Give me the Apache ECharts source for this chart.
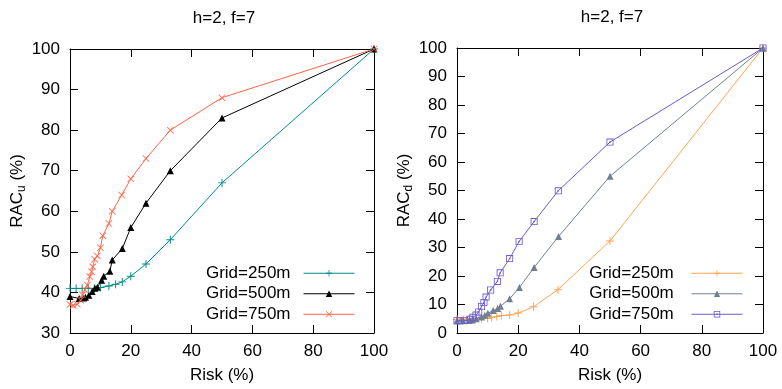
<!DOCTYPE html>
<html><head><meta charset="utf-8">
<script src="https://cdn.jsdelivr.net/npm/echarts@6/dist/echarts.min.js"></script>
<style>html,body{margin:0;padding:0;background:#fff}#c{width:782px;height:389px}</style>
</head><body><div id="c"></div>
<script>
// ---- data ----
const titleText = 'h=2, f=7';
const legendNames = ['Grid=250m', 'Grid=500m', 'Grid=750m'];
const xTicks = [0, 20, 40, 60, 80, 100];

const riskU250 = [0, 2, 4, 6, 8, 10, 12.8, 15, 17.2, 20, 25, 33, 50, 100];
const racU250  = [41, 41, 41, 41, 41, 41.2, 41.6, 42, 42.6, 44, 47, 53, 67, 100];
const riskU500 = [0, 3, 4.5, 5.1, 6.2, 7.3, 8.2, 9, 10.4, 11.1, 13.1, 13.9, 17.2, 20, 25, 33, 50, 100];
const racU500  = [39, 38.5, 38.6, 38.8, 39.3, 40.2, 41, 41.3, 43, 44, 45.2, 48, 50.8, 56, 62, 70, 83, 100];
const riskU750 = [0, 1, 2.4, 3.5, 4.1, 4.9, 5.7, 6.5, 7.1, 7.5, 8.1, 9, 10, 10.8, 12.8, 13.9, 17, 20, 25, 33, 50, 100];
const racU750  = [37, 36.8, 37.1, 38.1, 39.4, 40.6, 41.8, 43.9, 45.1, 46.3, 48.2, 49, 51, 54, 57, 60, 64, 68, 73, 80, 88, 100];

const riskD250 = [0, 2, 4, 6, 8, 10, 11.3, 13, 14.5, 17.2, 20, 25, 33, 50, 100];
const racD250  = [4.8, 4.8, 4.9, 5, 5, 5.1, 5.4, 5.8, 6.1, 6.3, 7, 9.2, 15.2, 32.3, 100];
const riskD500 = [0, 2, 4, 5, 6.3, 8, 9.1, 10.1, 11.8, 13.3, 14.2, 17.2, 20.4, 25.2, 33.2, 50, 100];
const racD500  = [4.3, 4.3, 4.4, 4.6, 5, 5.6, 6.2, 6.9, 7.9, 8.6, 9.4, 12, 16, 23, 33.9, 55, 100];
const riskD750 = [0, 1, 2.5, 4.2, 5.2, 6.2, 7.1, 8, 8.8, 9.5, 11, 13.2, 14.1, 17.2, 20.3, 25.2, 33.1, 50, 100];
const racD750  = [4.3, 4.3, 4.4, 4.8, 5.5, 6.3, 7.4, 9.3, 10.7, 12.6, 15.1, 18.1, 21.1, 26.1, 32.1, 39.1, 49.9, 67, 100];

// ---- style ----
const FONT = 'Liberation Sans';
const FS = 17;
const PLUS = 'path://M0,4.4H10V5.6H0ZM4.4,0H5.6V10H4.4Z';
const CROSS = 'path://M0,0.8L0.8,0L10,9.2L9.2,10ZM9.2,0L10,0.8L0.8,10L0,9.2Z';
const SQDOT = 'path://M0,0H10V10H0ZM1.2,1.2V8.8H8.8V1.2ZM4,4H6V6H4Z';

const zip = (xs, ys) => xs.map((x, i) => [x, ys[i]]);

function mkSeries(name, xs, ys, color, symbol, size, idx) {
  return {
    type: 'line', name, data: zip(xs, ys),
    xAxisIndex: idx, yAxisIndex: idx,
    symbol, symbolSize: size, showAllSymbol: true,
    lineStyle: { color, width: 1 },
    itemStyle: { color },
    emphasis: { disabled: true },
    animation: false
  };
}

const tickStyle = { inside: true, length: 8, lineStyle: { color: '#000', width: 1 } };
const lineStyle = { show: true, onZero: false, lineStyle: { color: '#000', width: 1 } };
const labelStyle = { fontFamily: FONT, fontSize: FS, color: '#000' };

function xAxes(g) {
  return [
    { type: 'value', gridIndex: g, position: 'bottom', min: 0, max: 100, interval: 20,
      axisLine: lineStyle, axisTick: tickStyle, splitLine: { show: false },
      axisLabel: Object.assign({ margin: 10, formatter: v => xTicks.includes(v) ? String(v) : '' }, labelStyle),
      name: 'Risk (%)', nameLocation: 'middle', nameGap: 34,
      nameTextStyle: labelStyle },
    { type: 'value', gridIndex: g, position: 'top', min: 0, max: 100, interval: 20,
      axisLine: lineStyle, axisTick: tickStyle, splitLine: { show: false },
      axisLabel: { show: false },
      name: titleText, nameLocation: 'middle', nameGap: 22,
      nameTextStyle: Object.assign({ padding: [0, 0, 0, 4] }, labelStyle) }
  ];
}
function yAxes(g, min, sub) {
  return [
    { type: 'value', gridIndex: g, position: 'left', min, max: 100, interval: 10,
      axisLine: lineStyle, axisTick: tickStyle, splitLine: { show: false },
      axisLabel: Object.assign({ margin: 10 }, labelStyle),
      name: '{a|RAC}{b|' + sub + '}{a| (%)}', nameLocation: 'middle', nameGap: 33,
      nameTextStyle: { rich: {
        a: { fontFamily: FONT, fontSize: FS, color: '#000' },
        b: { fontFamily: FONT, fontSize: 12, color: '#000', padding: [9, 0, 0, 0] }
      } } },
    { type: 'value', gridIndex: g, position: 'right', min, max: 100, interval: 10,
      axisLine: lineStyle, axisTick: tickStyle, splitLine: { show: false },
      axisLabel: { show: false } }
  ];
}

function legend(right, names) {
  return {
    orient: 'vertical', right, top: 263, align: 'right', padding: 0,
    itemWidth: 51, itemHeight: 8, itemGap: 0,
    data: names,
    lineStyle: { width: 1 },
    textStyle: { fontFamily: FONT, fontSize: FS, color: '#000', lineHeight: 20.5, padding: [0, 8, 0, 0] },
    selectedMode: false
  };
}

const xa = xAxes(0).concat(xAxes(1));
const ya = yAxes(0, 30, 'u').concat(yAxes(1, 0, 'd'));
const series = [
  mkSeries(legendNames[0], riskU250, racU250, '#008b8b', PLUS, 8, 0),
  mkSeries(legendNames[1], riskU500, racU500, '#000000', 'triangle', 7, 0),
  mkSeries(legendNames[2], riskU750, racU750, '#ff6347', CROSS, 7, 0),
  mkSeries(legendNames[0] + ' ', riskD250, racD250, '#ffa54f', PLUS, 8, 2),
  mkSeries(legendNames[1] + ' ', riskD500, racD500, '#708090', 'triangle', 7, 2),
  mkSeries(legendNames[2] + ' ', riskD750, racD750, '#6a5acd', SQDOT, 7, 2)
];

const chart = echarts.init(document.getElementById('c'), null, { renderer: 'canvas' });
chart.setOption({
  animation: false,
  backgroundColor: '#fff',
  grid: [
    { left: 70, top: 49, width: 304, height: 284 },
    { left: 457, top: 48, width: 306, height: 285 }
  ],
  xAxis: xa,
  yAxis: ya,
  legend: [
    legend(427, legendNames.slice()),
    legend(39, legendNames.map(n => n + ' '))
  ],
  series
});
</script></body></html>
